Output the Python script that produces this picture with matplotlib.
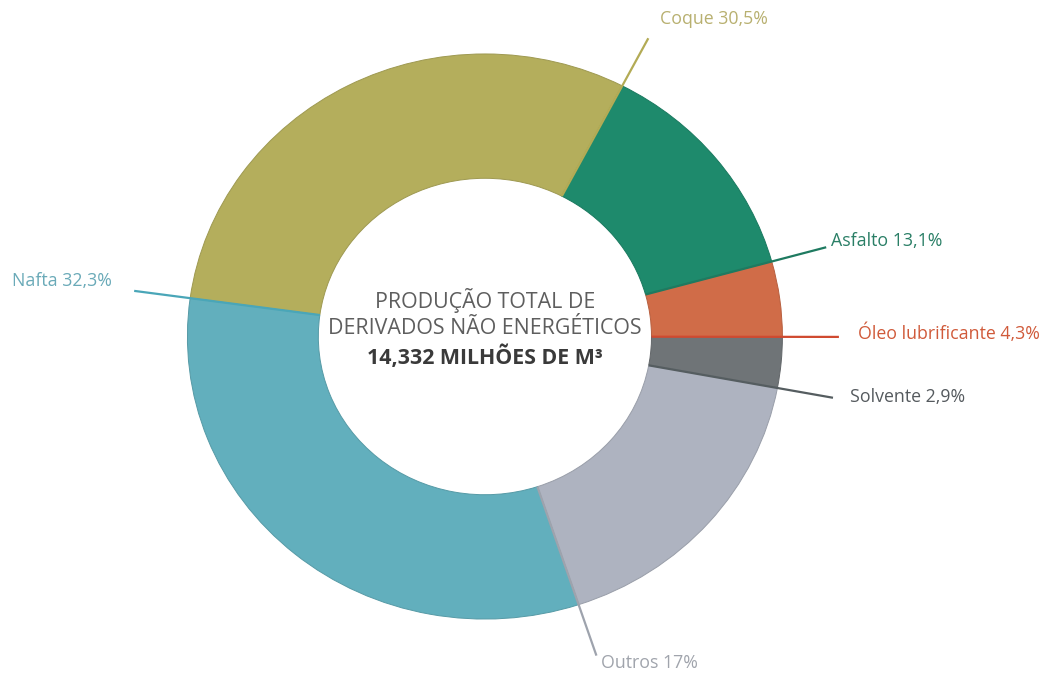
import numpy as np
import matplotlib
matplotlib.use("Agg")
import matplotlib.pyplot as plt
from matplotlib.colors import to_rgb

plt.rcParams['font.family'] = ['Open Sans', 'DejaVu Sans']

# Participação de cada derivado (%)
labels = ['Coque', 'Asfalto', 'Óleo lubrificante', 'Solvente', 'Outros', 'Nafta']
values = [30.5, 13.1, 4.3, 2.9, 17, 32.3]
value_text = ['30,5%', '13,1%', '4,3%', '2,9%', '17%', '32,3%']
fill_colors = ['#b4ae5c', '#1e8a6c', '#d06c48', '#6f7477', '#aeb3c0', '#62afbd']
line_colors = ['#b3ab55', '#1e7a60', '#d04a30', '#555d60', '#9ea3ad', '#4aa6b8']
text_colors = ['#b8b070', '#2a7f66', '#d05a3a', '#555a5e', '#a0a4ac', '#6aaab8']

# label anchor (data units) and horizontal alignment
label_pos = [(0.588, 1.124, 'left'), (1.163, 0.338, 'left'), (1.254, 0.012, 'left'),
             (1.227, -0.214, 'left'), (0.390, -1.156, 'left'), (-1.254, 0.196, 'right')]

start = 172.2
ring_width = 0.44
inner = 1 - ring_width

fig = plt.figure(figsize=(10.54, 6.75), dpi=100)
ax = fig.add_axes([0, 0, 1, 1])

edge = [tuple(c * 0.88 for c in to_rgb(f)) for f in fill_colors]
wedges, _ = ax.pie(values, colors=fill_colors, startangle=start, counterclock=False,
                   wedgeprops=dict(width=ring_width, linewidth=0.7))
for w, e in zip(wedges, edge):
    w.set_edgecolor(e)

# leader lines along the clockwise end of each wedge
total = sum(values)
ang = start
for v, lc, (tx, ty, ha), name, vt, tc in zip(values, line_colors, label_pos,
                                               labels, value_text, text_colors):
    ang -= v / total * 360
    a = np.deg2rad(ang)
    ax.plot([inner * np.cos(a), 1.19 * np.cos(a)],
            [inner * np.sin(a), 1.19 * np.sin(a)],
            color=lc, lw=1.6, solid_capstyle='butt', zorder=3)
    ax.text(tx, ty, f'{name} {vt}', ha=ha, va='center', fontsize=12.8, color=tc)

ax.text(0, 0.126, 'PRODUÇÃO TOTAL DE', ha='center', va='center',
        fontsize=15.4, color='#5e5e5e')
ax.text(0, 0.027, 'DERIVADOS NÃO ENERGÉTICOS', ha='center', va='center',
        fontsize=15.4, color='#5e5e5e')
ax.text(0, -0.072, '14,332 MILHÕES DE M³', ha='center', va='center',
        fontsize=15.4, fontweight='bold', color='#3a3a3a')

ax.set_aspect('auto')
ax.set_xlim(-1.630, 1.913)
ax.set_ylim(-1.198, 1.191)
ax.axis('off')

fig.savefig('out.png', dpi=100, facecolor='white')
